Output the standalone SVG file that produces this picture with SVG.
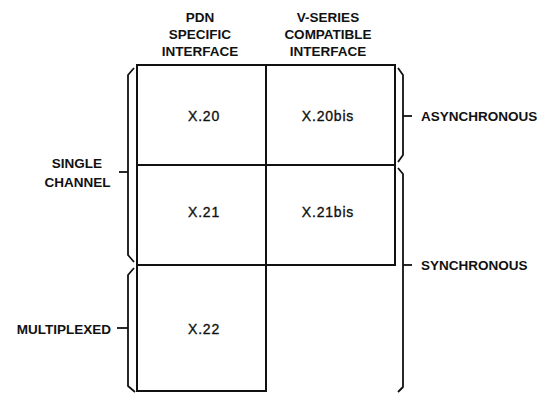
<svg xmlns="http://www.w3.org/2000/svg" width="541" height="393" viewBox="0 0 541 393">
<style>
.cell{fill:#fff;stroke:#111;stroke-width:2}
.lbl{font-family:"Liberation Sans",Arial,sans-serif;font-size:13.5px;font-weight:bold;fill:#111}
.cl{font-family:"Liberation Sans",Arial,sans-serif;font-size:14px;fill:#111;stroke:#111;stroke-width:0.35;text-anchor:middle;letter-spacing:0.8px}
.br{fill:none;stroke:#111;stroke-width:1.8;stroke-linejoin:round}
</style>
<rect width="541" height="393" fill="#fff"/>
<g id="header-pdn">
<text class="lbl" text-anchor="middle" x="200" y="22">PDN</text>
<text class="lbl" text-anchor="middle" x="200" y="39">SPECIFIC</text>
<text class="lbl" text-anchor="middle" x="200" y="56">INTERFACE</text>
</g>
<g id="header-vseries">
<text class="lbl" text-anchor="middle" x="328" y="22">V-SERIES</text>
<text class="lbl" text-anchor="middle" x="328" y="39">COMPATIBLE</text>
<text class="lbl" text-anchor="middle" x="328" y="56">INTERFACE</text>
</g>
<g id="cell-x20">
<rect class="cell" x="137" y="65" width="129" height="100"/>
<text class="cl" x="204" y="121">X.20</text>
</g>
<g id="cell-x20bis">
<rect class="cell" x="266" y="65" width="129" height="100"/>
<text class="cl" x="328" y="121">X.20bis</text>
</g>
<g id="cell-x21">
<rect class="cell" x="137" y="165" width="129" height="100"/>
<text class="cl" x="204" y="217">X.21</text>
</g>
<g id="cell-x21bis">
<rect class="cell" x="266" y="165" width="129" height="100"/>
<text class="cl" x="328" y="217">X.21bis</text>
</g>
<g id="cell-x22">
<rect class="cell" x="137" y="265" width="129" height="126"/>
<text class="cl" x="204" y="333.5">X.22</text>
</g>
<g id="label-single-channel">
<text class="lbl" text-anchor="middle" x="77" y="168">SINGLE</text>
<text class="lbl" text-anchor="middle" x="77.5" y="187">CHANNEL</text>
</g>
<g id="label-multiplexed">
<text class="lbl" text-anchor="end" x="111" y="333.5">MULTIPLEXED</text>
</g>
<g id="label-asynchronous">
<text class="lbl" x="421" y="121">ASYNCHRONOUS</text>
</g>
<g id="label-synchronous">
<text class="lbl" x="421" y="270">SYNCHRONOUS</text>
</g>
<g id="connectors">
<path class="br" d="M134,68 L128,75 V255 L134,262"/>
<path class="br" d="M119,172 H128"/>
<path class="br" d="M134,268 L128,275 V386 L135,392"/>
<path class="br" d="M117,328 H128"/>
<path class="br" d="M398,68 L403,75 V155 L398,162"/>
<path class="br" d="M403,116 H412"/>
<path class="br" d="M398,168 L403,174 V387 L398,392"/>
<path class="br" d="M403,265 H412"/>
</g>
</svg>
